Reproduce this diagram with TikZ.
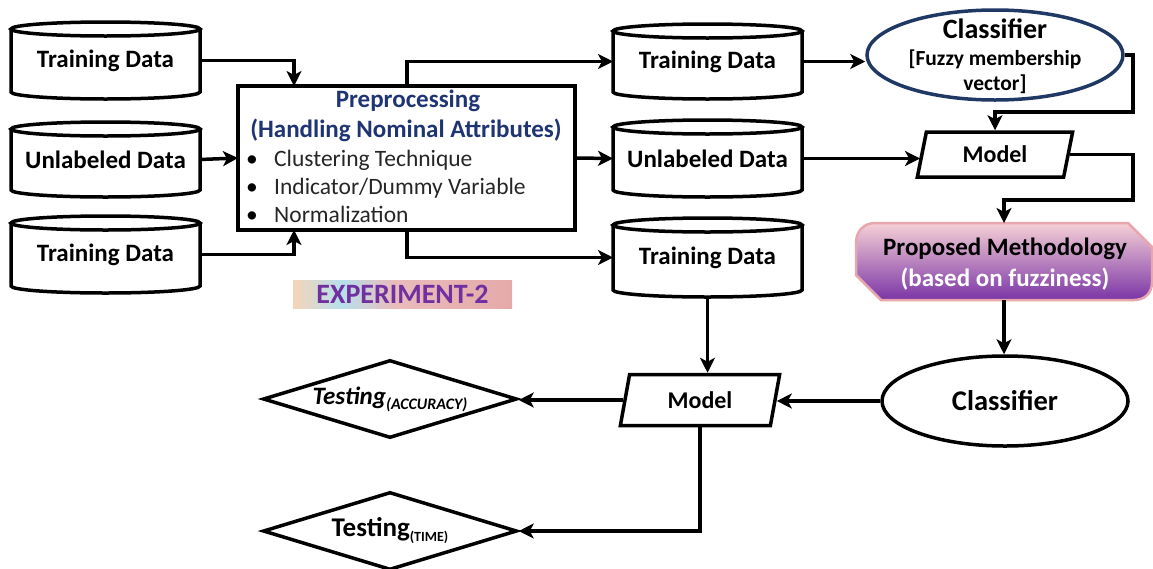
\documentclass[tikz,border=0pt]{standalone}
\usepackage{fontspec}
\setmainfont{Carlito}
\usetikzlibrary{shapes.geometric,arrows.meta,calc}
\definecolor{navytxt}{HTML}{1F3472}
\definecolor{clsblue}{HTML}{1F3864}
\definecolor{expurple}{HTML}{7030A0}
\definecolor{peach}{HTML}{F6D4B8}
\definecolor{lblue}{HTML}{B6E0EC}
\definecolor{pinkA}{HTML}{E9BCBC}
\definecolor{pinkB}{HTML}{E4AAA8}
\definecolor{methtop}{HTML}{F6D0D6}
\definecolor{methbot}{HTML}{7A35A6}
\definecolor{methline}{HTML}{E8A6AE}
\definecolor{bullettxt}{HTML}{262626}
\pgfdeclarehorizontalshading{expshade}{100bp}{color(0bp)=(peach); color(25bp)=(peach); color(36bp)=(lblue); color(48bp)=(pinkA); color(75bp)=(pinkB); color(100bp)=(pinkB)}
\newcommand\dbcyl[6]{%
  \draw[line] (#2,#4+7) -- (#2,#5-7) arc[start angle=180,end angle=360,x radius={(#3-#2)/2*1pt},y radius=7pt] -- (#3,#4+7);
  \draw[line] ({(#2+#3)/2},#4+7) ellipse[x radius={(#3-#2)/2*1pt},y radius=7pt];
  \node[box,lbl,minimum width={(#3-#2)*1pt},minimum height={(#5-#4)*1pt}] (#1) at ({(#2+#3)/2},{(#4+#5)/2}) {#6};
}
\begin{document}
\begin{tikzpicture}[x=1pt,y=-1pt,
  line/.style={line width=3.5pt},
  arr/.style={line width=3.5pt,-{Stealth[length=15pt,width=15pt,inset=4pt]}},
  box/.style={inner sep=0pt,outer sep=0pt},
  lbl/.style={font=\fontsize{25}{28}\selectfont\bfseries,text=black},
  para/.style={trapezium,trapezium left angle=76,trapezium right angle=104,trapezium stretches=true,draw,line width=3.5pt,inner sep=0pt,minimum height=45pt},
  dia/.style={diamond,draw,line width=3.5pt,inner sep=0pt,aspect=3.2,minimum width=254pt,minimum height=78pt},
  btxt/.style={anchor=base west,inner sep=0pt,font=\fontsize{23.5}{26}\selectfont,text=bullettxt},
  bdot/.style={anchor=base west,inner sep=0pt,font=\fontsize{23.5}{26}\selectfont,text=black},
 ]
\useasboundingbox (0,0) rectangle (1153,568);

% left cylinders
\dbcyl{tdA}{11}{200}{22}{99}{Training Data}
\dbcyl{udA}{11}{200}{122}{197}{Unlabeled Data}
\dbcyl{tdB}{11}{200}{216}{293}{Training Data}
% right cylinders
\dbcyl{tdR}{613}{802}{24}{99}{Training Data}
\dbcyl{udR}{613}{802}{120}{197}{Unlabeled Data}
\dbcyl{tdS}{613}{802}{218}{297}{Training Data}

% preprocessing box
\node[draw,line width=4pt,box,minimum width=337pt,minimum height=144pt] (pre) at (406.5,158) {};
\node[anchor=base,inner sep=0pt,font=\fontsize{25}{27}\selectfont\bfseries,text=navytxt] (preA) at (408,107) {Preprocessing};
\node[anchor=base,inner sep=0pt,font=\fontsize{25}{27}\selectfont\bfseries,text=navytxt] (preB) at (406,137) {(Handling Nominal Attributes)};
\node[bdot] (b1) at (246,166) {•};
\node[btxt] (t1) at (274,166) {Clustering Technique};
\node[bdot] (b2) at (246,194) {•};
\node[btxt] (t2) at (274,194) {Indicator/Dummy Variable};
\node[bdot] (b3) at (246,222) {•};
\node[btxt] (t3) at (274,222) {Normalization};

% experiment label
\node[box,shading=expshade,minimum width=219pt,minimum height=28pt,font=\fontsize{28}{30}\selectfont\bfseries,text=expurple] (exp) at (402.5,294) {EXPERIMENT-2};

% classifier (top)
\node[ellipse,draw=clsblue,line width=3.5pt,minimum width=256pt,minimum height=90pt,inner sep=0pt] (clsA) at (995,55) {};
\node[anchor=base,inner sep=0pt,font=\fontsize{28}{30}\selectfont\bfseries] (clsAa) at (995,38) {Classifier};
\node[anchor=base,inner sep=0pt,font=\fontsize{21.5}{23}\selectfont\bfseries] (clsAb) at (995,65) {[Fuzzy membership};
\node[anchor=base,inner sep=0pt,font=\fontsize{21.5}{23}\selectfont\bfseries] (clsAc) at (995,90) {vector]};

% model (top)
\node[para,minimum width=156pt,font=\fontsize{24}{26}\selectfont\bfseries] (mA) at (995,154.5) {Model};

% proposed methodology
\shade[top color=methtop,bottom color=methbot,draw=methline,line width=2.5pt]
  (875,223) -- (1128,223) -- (1152,247) -- (1152,282) .. controls (1152,293) and (1145,300) .. (1134,300)
  -- (881,300) -- (856,275) -- (856,243) .. controls (856,231) and (864,223) .. (875,223) -- cycle;
\node[box,minimum width=296pt,minimum height=77pt] (meth) at (1004,261.5) {};
\node[anchor=base,inner sep=0pt,font=\fontsize{25}{27}\selectfont\bfseries,text=black] (methA) at (1005,255) {Proposed Methodology};
\node[anchor=base,inner sep=0pt,font=\fontsize{25}{27}\selectfont\bfseries,text=white] (methB) at (1005,286) {(based on fuzziness)};

% classifier (bottom)
\node[ellipse,draw,line width=3.5pt,minimum width=246pt,minimum height=90pt,inner sep=0pt,font=\fontsize{28.5}{30}\selectfont\bfseries] (clsB) at (1005,401) {Classifier};

% model (bottom)
\node[para,minimum width=160pt,minimum height=51pt,font=\fontsize{24}{26}\selectfont\bfseries] (mB) at (700,400) {Model};

% testing diamonds
\node[dia] (ta) at (390,399) {\fontsize{25}{27}\selectfont\bfseries\itshape Testing\raisebox{-5pt}{\fontsize{16}{17}\selectfont(ACCURACY)}};
\node[dia] (tt) at (390,531) {\fontsize{27}{29}\selectfont\bfseries Testing\raisebox{-5pt}{\fontsize{14}{15}\selectfont(TIME)}};

% connectors
\draw[arr] (tdA.east) -| ([xshift=56pt]pre.north west);
\draw[arr] (udA.east) -- (pre.west);
\draw[arr] (tdB.east) -| ([xshift=56pt]pre.south west);
\draw[arr] ([xshift=169pt]pre.north west) |- (tdR.west);
\draw[arr] (pre.east) -- (udR.west);
\draw[arr] ([xshift=169pt]pre.south west) |- (tdS.west);
\draw[arr] (tdR.east) -- (tdR.east -| clsA.west);
\draw[arr] (clsA.east) -| (1133,112) -| (mA.north);
\draw[arr] (udR.east) -- (udR.east -| mA.west);
\draw[arr] (mA.east) -| (1133,200) -| (meth.north);
\draw[arr] (meth.south) -- (meth.south |- clsB.north);
\draw[arr] (clsB.west) -- (clsB.west -| mB.east);
\draw[arr] (tdS.south) -- (tdS.south |- mB.north);
\draw[arr] (mB.west) -- (mB.west -| ta.east);
\draw[arr] (mB.south) |- (tt.east);
\end{tikzpicture}
\end{document}
